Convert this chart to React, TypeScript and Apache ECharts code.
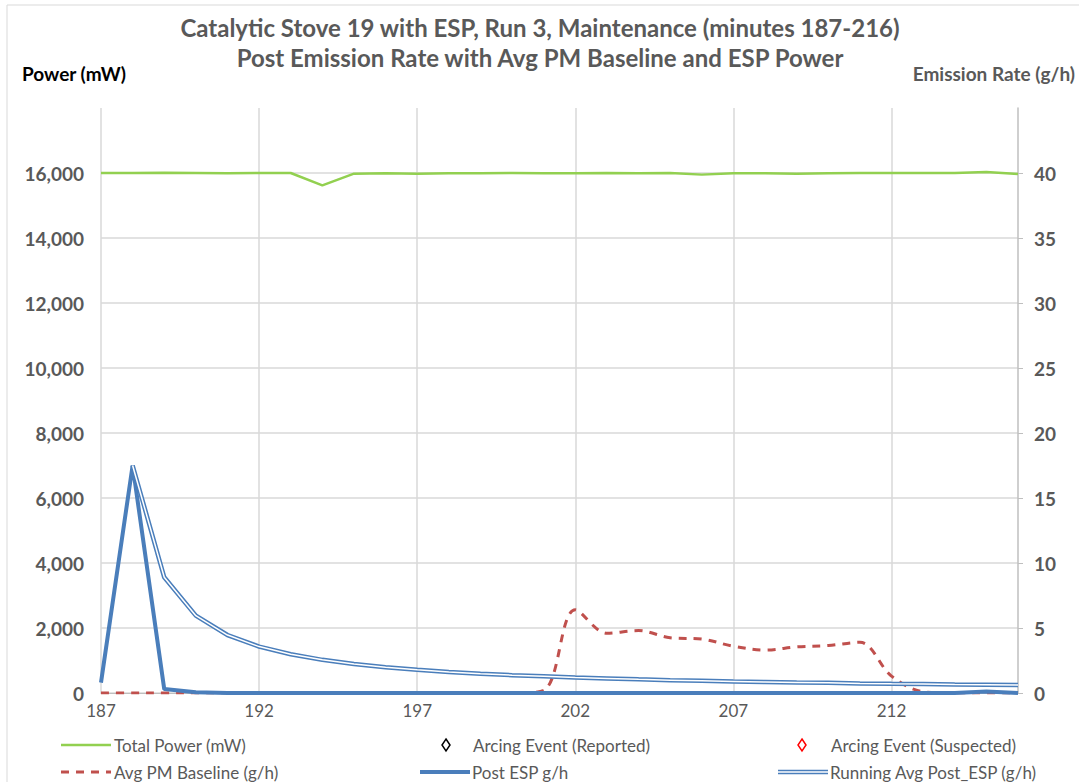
import React, { useEffect, useRef } from "react";
import * as echarts from "echarts";

const minutes: string[] = [
  "187","188","189","190","191","192","193","194","195","196",
  "197","198","199","200","201","202","203","204","205","206",
  "207","208","209","210","211","212","213","214","215","216",
];

const totalPower: number[] = [
  16000, 16000, 16010, 16000, 15990, 16000, 16000, 15620, 15980, 15990,
  15980, 15990, 15990, 16000, 15990, 15990, 16000, 15990, 16000, 15950,
  15990, 15990, 15980, 15990, 16000, 16000, 16000, 16000, 16030, 15970,
];

const avgPmBaseline: number[] = [
  0, 0, 0, 0, 0, 0, 0, 0, 0, 0,
  0, 0, 0, 0, 0.2, 6.4, 4.6, 4.8, 4.25, 4.15,
  3.6, 3.3, 3.55, 3.65, 3.9, 1.3, 0.1, 0, 0, 0,
];

const postEsp: number[] = [
  0.8, 17.5, 0.3, 0.05, 0, 0, 0, 0, 0, 0,
  0, 0, 0, 0, 0, 0, 0, 0, 0, 0,
  0, 0, 0, 0, 0, 0, 0, 0, 0.12, 0,
];

const runningAvg: (number | null)[] = [
  null, 17.5, 8.9, 5.95, 4.46, 3.57, 2.98, 2.55, 2.23, 1.98,
  1.79, 1.62, 1.49, 1.37, 1.28, 1.19, 1.12, 1.05, 0.99, 0.94,
  0.89, 0.85, 0.81, 0.78, 0.74, 0.71, 0.69, 0.66, 0.64, 0.62,
];

const leftTicks = { min: 0, max: 18000, interval: 2000 };
const rightTicks = { min: 0, max: 45, interval: 5 };

const FONT = "Lato, 'Open Sans', sans-serif";
const GREY = "#595959";
const GREEN = "#92d050";
const RED = "#c0504d";
const BLUE = "#4a7ebb";
const GRID = "#d9d9d9";

export default function App() {
  const ref = useRef<HTMLDivElement>(null);

  useEffect(() => {
    if (!ref.current) return;
    const chart = echarts.init(ref.current, null, { renderer: "svg" });

    const splitColors: string[] = [];
    for (let v = leftTicks.min; v <= leftTicks.max; v += leftTicks.interval) {
      splitColors.push(v === leftTicks.max ? "rgba(0,0,0,0)" : GRID);
    }

    const legendText = (x: number, y: number, text: string) => ({
      type: "text",
      x,
      y,
      style: {
        text,
        fill: GREY,
        font: `17px ${FONT}`,
        verticalAlign: "middle",
        align: "left",
      },
    });

    const option: any = {
      animation: false,
      backgroundColor: "#ffffff",
      textStyle: { fontFamily: FONT },
      title: {
        text: "Catalytic Stove 19 with ESP, Run 3, Maintenance (minutes 187-216)\nPost Emission Rate with Avg PM Baseline and ESP Power",
        left: 535,
        top: 7,
        textAlign: "center",
        textStyle: {
          color: GREY,
          fontSize: 24,
          fontWeight: "bold",
          fontFamily: FONT,
          lineHeight: 30,
        },
      },
      grid: {
        left: 101,
        right: 61,
        top: 108,
        bottom: 89,
        containLabel: false,
        outerBoundsMode: "none",
      },
      xAxis: {
        type: "category",
        data: minutes,
        boundaryGap: false,
        axisLine: { show: true, lineStyle: { color: "#bfbfbf", width: 1 } },
        axisTick: { show: false },
        axisLabel: {
          interval: 4,
          color: GREY,
          fontSize: 17,
          margin: 9,
          fontFamily: FONT,
        },
        splitLine: {
          show: true,
          interval: 4,
          lineStyle: { color: GRID, width: 1.5 },
        },
      },
      yAxis: [
        {
          type: "value",
          min: leftTicks.min,
          max: leftTicks.max,
          interval: leftTicks.interval,
          axisLine: { show: false },
          axisTick: { show: false },
          axisLabel: {
            color: GREY,
            fontSize: 19,
            fontWeight: "bold",
            margin: 17,
            fontFamily: FONT,
            showMaxLabel: false,
            formatter: (v: number) => v.toLocaleString("en-US"),
          },
          splitLine: { show: true, lineStyle: { color: splitColors, width: 1.5 } },
        },
        {
          type: "value",
          min: rightTicks.min,
          max: rightTicks.max,
          interval: rightTicks.interval,
          position: "right",
          axisLine: { show: true, lineStyle: { color: "#bfbfbf", width: 1.5 } },
          axisTick: { show: true, length: 5, lineStyle: { color: "#bfbfbf" } },
          axisLabel: {
            color: GREY,
            fontSize: 19,
            fontWeight: "bold",
            margin: 16,
            fontFamily: FONT,
            showMaxLabel: false,
          },
          splitLine: { show: false },
        },
      ],
      series: [
        {
          name: "Total Power (mW)",
          type: "line",
          yAxisIndex: 0,
          data: totalPower,
          symbol: "none",
          lineStyle: { color: GREEN, width: 2.5 },
          itemStyle: { color: GREEN },
          z: 2,
        },
        {
          name: "Avg PM Baseline (g/h)",
          type: "line",
          yAxisIndex: 1,
          data: avgPmBaseline,
          symbol: "none",
          smooth: 0.35,
          lineStyle: { color: RED, width: 3, type: [8, 7] },
          itemStyle: { color: RED },
          z: 3,
        },
        {
          name: "Post ESP g/h",
          type: "line",
          yAxisIndex: 1,
          data: postEsp,
          symbol: "none",
          lineStyle: { color: BLUE, width: 4 },
          itemStyle: { color: BLUE },
          z: 4,
        },
        {
          name: "Running Avg Post_ESP (g/h)",
          type: "line",
          yAxisIndex: 1,
          data: runningAvg,
          symbol: "none",
          lineStyle: { color: BLUE, width: 4.5 },
          itemStyle: { color: BLUE },
          z: 5,
        },
        {
          name: "Running Avg Post_ESP (g/h) inner",
          type: "line",
          yAxisIndex: 1,
          data: runningAvg,
          symbol: "none",
          lineStyle: { color: "#ffffff", width: 1.5 },
          itemStyle: { color: "#ffffff" },
          z: 6,
        },
      ],
      graphic: [
        {
          type: "rect",
          shape: { x: 7, y: 5, width: 1100, height: 800 },
          style: { fill: "none", stroke: "#d9d9d9", lineWidth: 1 },
          silent: true,
          z: -10,
        },
        {
          type: "text",
          x: 22,
          y: 73,
          style: {
            text: "Power (mW)",
            fill: "#000000",
            font: `bold 19px ${FONT}`,
            align: "left",
            verticalAlign: "middle",
          },
        },
        {
          type: "text",
          x: 1075,
          y: 73,
          style: {
            text: "Emission Rate (g/h)",
            fill: GREY,
            font: `bold 19px ${FONT}`,
            align: "right",
            verticalAlign: "middle",
          },
        },
        // Row 1
        {
          type: "line",
          shape: { x1: 61, y1: 745, x2: 111, y2: 745 },
          style: { stroke: GREEN, lineWidth: 2.5 },
        },
        legendText(114, 745, "Total Power (mW)"),
        {
          type: "polygon",
          shape: { points: [[446, 739], [450, 745], [446, 751], [442, 745]] },
          style: { fill: "#ffffff", stroke: "#000000", lineWidth: 1.5 },
        },
        legendText(473, 745, "Arcing Event (Reported)"),
        {
          type: "polygon",
          shape: { points: [[802, 739], [806, 745], [802, 751], [798, 745]] },
          style: { fill: "#ffffff", stroke: "#ff0000", lineWidth: 1.5 },
        },
        legendText(831, 745, "Arcing Event (Suspected)"),
        // Row 2
        {
          type: "line",
          shape: { x1: 61, y1: 772, x2: 111, y2: 772 },
          style: { stroke: RED, lineWidth: 3, lineDash: [8, 7] },
        },
        legendText(114, 772, "Avg PM Baseline (g/h)"),
        {
          type: "line",
          shape: { x1: 420, y1: 772, x2: 470, y2: 772 },
          style: { stroke: BLUE, lineWidth: 4 },
        },
        legendText(472, 772, "Post ESP g/h"),
        {
          type: "line",
          shape: { x1: 778, y1: 772, x2: 828, y2: 772 },
          style: { stroke: BLUE, lineWidth: 4.5 },
        },
        {
          type: "line",
          shape: { x1: 778, y1: 772, x2: 828, y2: 772 },
          style: { stroke: "#ffffff", lineWidth: 1.5 },
        },
        legendText(830, 772, "Running Avg Post_ESP (g/h)"),
      ],
    };

    chart.setOption(option);
    return () => chart.dispose();
  }, []);

  return (
    <div
      ref={ref}
      style={{ position: "fixed", left: 0, top: 0, width: 1079, height: 782 }}
    />
  );
}
